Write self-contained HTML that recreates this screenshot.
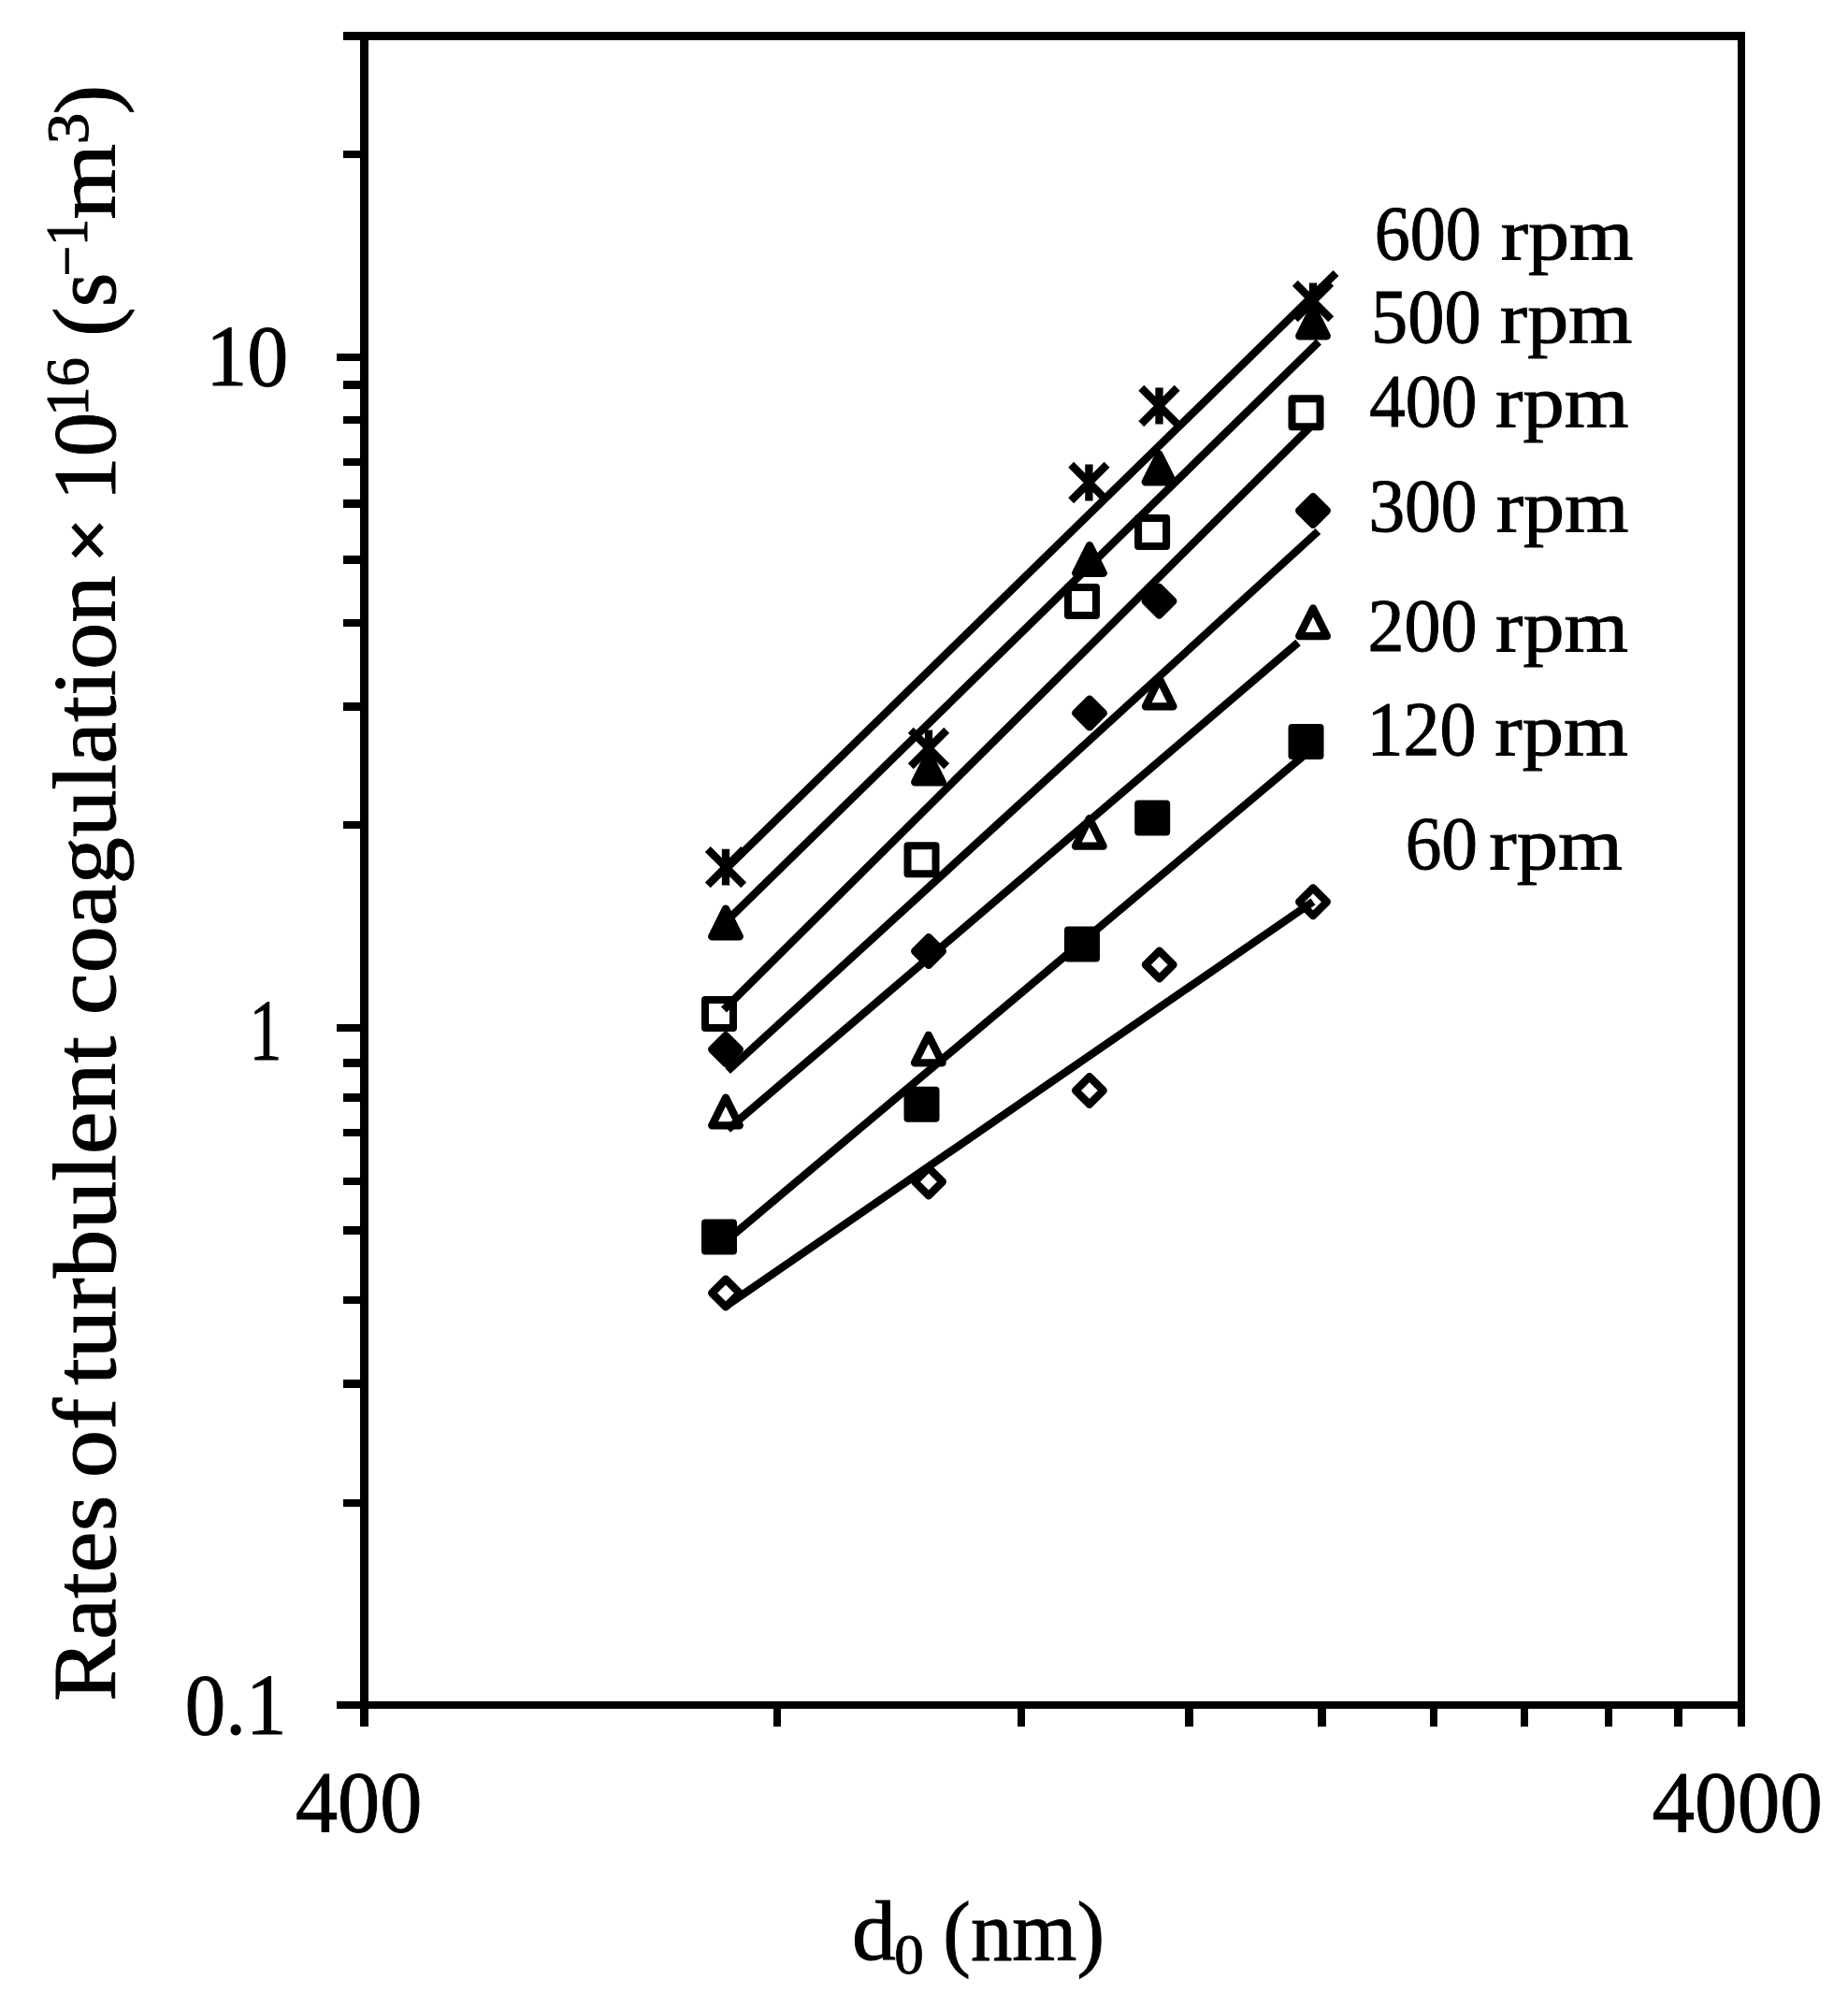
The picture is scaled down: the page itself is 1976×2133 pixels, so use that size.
<!DOCTYPE html>
<html lang="en"><head><meta charset="utf-8"><title>Rates of turbulent coagulation</title>
<style>html,body{margin:0;padding:0;background:#fff}svg{display:block}</style></head>
<body>
<svg width="1976" height="2133" viewBox="0 0 1976 2133">
<rect width="1976" height="2133" fill="#fff"/>
<g fill="#000" shape-rendering="crispEdges">
<rect x="385" y="34" width="9" height="1812"/>
<rect x="1858" y="34" width="8" height="1812"/>
<rect x="367" y="34" width="1499" height="9"/>
<rect x="360" y="1819" width="1506" height="8"/>
<rect x="367" y="161" width="19" height="8"/>
<rect x="360" y="378" width="26" height="8"/>
<rect x="367" y="407" width="19" height="9"/>
<rect x="367" y="445" width="19" height="8"/>
<rect x="367" y="490" width="19" height="8"/>
<rect x="367" y="534" width="19" height="9"/>
<rect x="367" y="594" width="19" height="9"/>
<rect x="367" y="662" width="19" height="8"/>
<rect x="367" y="751" width="19" height="9"/>
<rect x="367" y="878" width="19" height="8"/>
<rect x="360" y="1095" width="26" height="8"/>
<rect x="367" y="1132" width="19" height="9"/>
<rect x="367" y="1169" width="19" height="9"/>
<rect x="367" y="1207" width="19" height="8"/>
<rect x="367" y="1259" width="19" height="8"/>
<rect x="367" y="1311" width="19" height="9"/>
<rect x="367" y="1386" width="19" height="8"/>
<rect x="367" y="1475" width="19" height="9"/>
<rect x="367" y="1603" width="19" height="8"/>
<rect x="827" y="1826" width="8" height="20"/>
<rect x="1088" y="1826" width="8" height="20"/>
<rect x="1267" y="1826" width="9" height="20"/>
<rect x="1409" y="1826" width="9" height="20"/>
<rect x="1529" y="1826" width="8" height="20"/>
<rect x="1626" y="1826" width="8" height="20"/>
<rect x="1716" y="1826" width="8" height="20"/>
<rect x="1790" y="1826" width="9" height="20"/>
</g>
<g stroke="#000" stroke-width="8.3" stroke-linejoin="round" fill="none">
<path d="M756.8 908L795.2 946.4M756.8 946.4L795.2 908M776 907.8L776 946.6"/>
<path d="M973.8 780.8L1012.2 819.2M973.8 819.2L1012.2 780.8M993 780.6L993 819.4"/>
<path d="M1145.2 496.8L1183.6 535.2M1145.2 535.2L1183.6 496.8M1164.4 496.6L1164.4 535.4"/>
<path d="M1220.3 414.8L1258.7 453.2M1220.3 453.2L1258.7 414.8M1239.5 414.6L1239.5 453.4"/>
<path d="M1384.8 302.8L1423.2 341.2M1384.8 341.2L1423.2 302.8M1404 302.6L1404 341.4"/>
<path d="M776 1173.7L790.8 1203.3L761.2 1203.3Z"/>
<path d="M992.8 1106.8L1007.6 1136.4L978 1136.4Z"/>
<path d="M1164.8 875.1L1179.6 904.7L1150 904.7Z"/>
<path d="M1239.7 725.7L1254.5 755.3L1224.9 755.3Z"/>
<path d="M1404 650.5L1418.8 680.1L1389.2 680.1Z"/>
<rect x="754" y="1069" width="30" height="30" stroke-width="8"/>
<rect x="970.5" y="904.3" width="30" height="30" stroke-width="8"/>
<rect x="1142" y="628" width="30" height="30" stroke-width="8"/>
<rect x="1217.1" y="554" width="30" height="30" stroke-width="8"/>
<rect x="1381.5" y="426.3" width="30" height="30" stroke-width="8"/>
<path d="M776 1367.7L790.8 1382.5L776 1397.3L761.2 1382.5Z"/>
<path d="M993 1248.7L1007.8 1263.5L993 1278.3L978.2 1263.5Z"/>
<path d="M1164.9 1151.2L1179.7 1166L1164.9 1180.8L1150.1 1166Z"/>
<path d="M1239.7 1016.7L1254.5 1031.5L1239.7 1046.3L1224.9 1031.5Z"/>
<path d="M1404 949.5L1418.8 964.3L1404 979.1L1389.2 964.3Z"/>
</g>
<g stroke="#000" stroke-width="8.3" stroke-linejoin="round" fill="#000">
<path d="M776 971.7L790.8 1001.3L761.2 1001.3Z"/>
<path d="M993 806.7L1007.8 836.3L978.2 836.3Z"/>
<path d="M1165 583.2L1179.8 612.8L1150.2 612.8Z"/>
<path d="M1239.5 485.8L1254.3 515.4L1224.7 515.4Z"/>
<path d="M1404 329.7L1418.8 359.3L1389.2 359.3Z"/>
<rect x="754" y="1307.5" width="30" height="30" stroke-width="8"/>
<rect x="970.5" y="1165.8" width="30" height="30" stroke-width="8"/>
<rect x="1142" y="994.5" width="30" height="30" stroke-width="8"/>
<rect x="1217.2" y="859.4" width="30" height="30" stroke-width="8"/>
<rect x="1381.5" y="778" width="30" height="30" stroke-width="8"/>
<path d="M776 1107.2L790.8 1122L776 1136.8L761.2 1122Z"/>
<path d="M993 1002.2L1007.8 1017L993 1031.8L978.2 1017Z"/>
<path d="M1165 747.6L1179.8 762.4L1165 777.2L1150.2 762.4Z"/>
<path d="M1239.5 627.9L1254.3 642.7L1239.5 657.5L1224.7 642.7Z"/>
<path d="M1404 531.2L1418.8 546L1404 560.8L1389.2 546Z"/>
</g>
<g stroke="#000" stroke-width="8.4" stroke-linecap="butt" fill="none">
<line x1="776" y1="929.3" x2="1428.5" y2="292"/>
<line x1="776" y1="985.8" x2="1410" y2="365.5"/>
<line x1="774" y1="1079.5" x2="1402" y2="455.5"/>
<line x1="778.1" y1="1145" x2="1409.4" y2="568"/>
<line x1="778.2" y1="1207.5" x2="1388" y2="687"/>
<line x1="776" y1="1327" x2="1404" y2="799.5"/>
<line x1="778" y1="1395.3" x2="1404" y2="964"/>
</g>
<g font-family='"Liberation Serif", "DejaVu Serif", serif' fill="#000" stroke="#000" stroke-width="1">
<text><tspan x="220.21" y="411.90" font-size="93.18" textLength="87.95" lengthAdjust="spacingAndGlyphs">10</tspan></text>
<text><tspan x="266.60" y="1132.90" font-size="93.18" textLength="34.88" lengthAdjust="spacingAndGlyphs">1</tspan></text>
<text><tspan x="197.80" y="1853.80" font-size="93.18" textLength="108.60" lengthAdjust="spacingAndGlyphs">0.1</tspan></text>
<text><tspan x="315.93" y="1958.20" font-size="93.33" textLength="135.38" lengthAdjust="spacingAndGlyphs">400</tspan></text>
<text><tspan x="1766.51" y="1958.20" font-size="93.64" textLength="182.28" lengthAdjust="spacingAndGlyphs">4000</tspan></text>
<text><tspan x="1469.81" y="277.00" font-size="82.41" textLength="114.06" lengthAdjust="spacingAndGlyphs">600</tspan> <tspan x="1604.67" y="276.90" font-size="78.79" textLength="141.63" lengthAdjust="spacingAndGlyphs">rpm</tspan></text>
<text><tspan x="1466.04" y="366.00" font-size="81.94" textLength="117.53" lengthAdjust="spacingAndGlyphs">500</tspan> <tspan x="1603.87" y="365.80" font-size="78.57" textLength="141.63" lengthAdjust="spacingAndGlyphs">rpm</tspan></text>
<text><tspan x="1464.26" y="456.00" font-size="81.17" textLength="115.14" lengthAdjust="spacingAndGlyphs">400</tspan> <tspan x="1599.06" y="456.00" font-size="78.57" textLength="142.46" lengthAdjust="spacingAndGlyphs">rpm</tspan></text>
<text><tspan x="1463.38" y="567.50" font-size="81.17" textLength="116.04" lengthAdjust="spacingAndGlyphs">300</tspan> <tspan x="1599.77" y="567.50" font-size="78.57" textLength="141.74" lengthAdjust="spacingAndGlyphs">rpm</tspan></text>
<text><tspan x="1462.54" y="696.30" font-size="81.01" textLength="116.91" lengthAdjust="spacingAndGlyphs">200</tspan> <tspan x="1599.07" y="696.30" font-size="78.57" textLength="141.84" lengthAdjust="spacingAndGlyphs">rpm</tspan></text>
<text><tspan x="1461.50" y="807.20" font-size="82.10" textLength="116.85" lengthAdjust="spacingAndGlyphs">120</tspan> <tspan x="1598.26" y="807.20" font-size="78.57" textLength="142.66" lengthAdjust="spacingAndGlyphs">rpm</tspan></text>
<text><tspan x="1502.66" y="928.50" font-size="81.17" textLength="77.38" lengthAdjust="spacingAndGlyphs">60</tspan> <tspan x="1592.16" y="928.50" font-size="78.57" textLength="142.66" lengthAdjust="spacingAndGlyphs">rpm</tspan></text>
<text><tspan x="911.04" y="2095.30" font-size="90.83" textLength="46.84" lengthAdjust="spacingAndGlyphs">d</tspan><tspan x="956.20" y="2109.80" font-size="62.10" textLength="31.50" lengthAdjust="spacingAndGlyphs">0</tspan> <tspan x="1008.36" y="2096.00" font-size="91.26" textLength="172.61" lengthAdjust="spacingAndGlyphs">(nm)</tspan></text>
<text transform="translate(123.1 1816.0) rotate(-90)"><tspan x="-3.13" y="-0.00" font-size="95.45" textLength="220.37" lengthAdjust="spacingAndGlyphs">Rates</tspan> <tspan x="235.68" y="-0.00" font-size="95.00" textLength="85.47" lengthAdjust="spacingAndGlyphs">of</tspan> <tspan x="334.91" y="-0.00" font-size="95.00" textLength="373.16" lengthAdjust="spacingAndGlyphs">turbulent</tspan> <tspan x="730.76" y="-0.00" font-size="95.00" textLength="470.00" lengthAdjust="spacingAndGlyphs">coagulation</tspan> <tspan x="1214.99" y="-4.00" font-size="76.93" textLength="46.25" lengthAdjust="spacingAndGlyphs" stroke-width="2.4">×</tspan> <tspan x="1280.44" y="-0.00" font-size="94.40" textLength="94.54" lengthAdjust="spacingAndGlyphs">10</tspan><tspan x="1371.01" y="-29.10" font-size="64.50" textLength="62.89" lengthAdjust="spacingAndGlyphs">16</tspan> <tspan x="1456.33" y="-0.00" font-size="95.00" textLength="68.05" lengthAdjust="spacingAndGlyphs">(s</tspan><tspan x="1520.76" y="-29.80" font-size="63.45" textLength="61.22" lengthAdjust="spacingAndGlyphs">−1</tspan><tspan x="1581.51" y="-0.00" font-size="90.78" textLength="80.77" lengthAdjust="spacingAndGlyphs">m</tspan><tspan x="1661.69" y="-29.50" font-size="63.90" textLength="33.68" lengthAdjust="spacingAndGlyphs">3</tspan><tspan x="1693.74" y="-0.00" font-size="92.12" textLength="31.25" lengthAdjust="spacingAndGlyphs">)</tspan></text>
</g>
</svg>
</body></html>
